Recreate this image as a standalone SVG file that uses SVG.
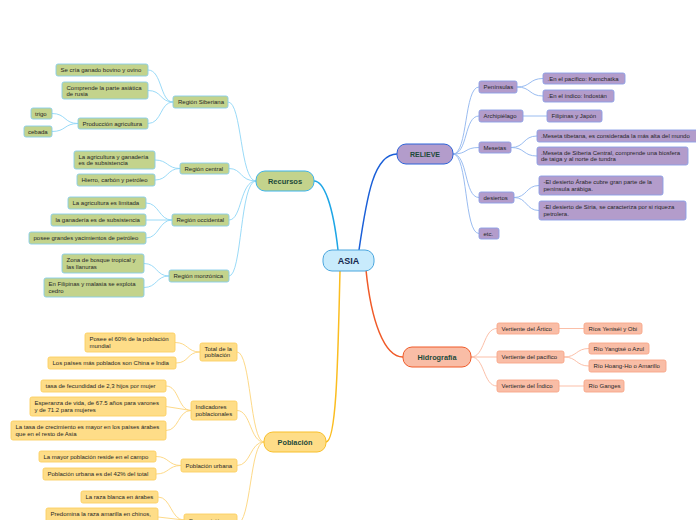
<svg xmlns="http://www.w3.org/2000/svg" width="696" height="520" viewBox="0 0 696 520">
<style>
text{font-family:"Liberation Sans",Arial,sans-serif;font-size:6px;fill:#262626}
.main{font-weight:bold;text-anchor:middle;fill:#1c4a3a}
.g rect{fill:#c3d38c;stroke:#86cdea;stroke-width:0.9}
.p rect{fill:#b39ccb;stroke:#8a9ee6;stroke-width:0.9}
.h rect{fill:#f9bda6;stroke:#f7a688;stroke-width:0.9}
.y rect{fill:#fedd88;stroke:#fccf62;stroke-width:0.9}
.c path{fill:none}
.cg path{stroke:#8fd6f6;stroke-width:0.9;fill:none}
.cp path{stroke:#8eb4ee;stroke-width:0.9;fill:none}
.ch path{stroke:#fbb89e;stroke-width:0.9;fill:none}
.cy path{stroke:#fdd57a;stroke-width:0.9;fill:none}
</style>
<rect width="696" height="520" fill="#ffffff"/>
<g id="connectors">
 <g class="c">
  <path d="M314 181 C324 181 333 205 338 250" stroke="#1ea6e6" stroke-width="1.5"/>
  <path d="M359 250 C367 195 374 154 397 154" stroke="#1a5fd8" stroke-width="1.5"/>
  <path d="M366 270 C371 320 384 357 403 357" stroke="#f05a28" stroke-width="1.5"/>
  <path d="M340 271 C338 350 337 442 326 442" stroke="#fbbd20" stroke-width="1.5"/>
 </g>
 <g class="cg">
  <path d="M256 181 C240 181 242 102 228 102"/>
  <path d="M256 181 C240 181 242 168.5 229 168.5"/>
  <path d="M256 181 C240 181 242 220 229 220"/>
  <path d="M256 181 C240 181 242 276 229 276"/>
  <path d="M173 102 C160 102 162 70 148 70"/>
  <path d="M173 102 C160 102 162 90.5 148 90.5"/>
  <path d="M173 102 C160 102 162 123.5 148 123.5"/>
  <path d="M78 123.5 C64 123.5 66 113.5 52 113.5"/>
  <path d="M78 123.5 C64 123.5 66 131.5 52 131.5"/>
  <path d="M180 168.5 C167 168.5 168 160 155 160"/>
  <path d="M180 168.5 C167 168.5 168 180 155 180"/>
  <path d="M172 220 C159 220 159 203 146 203"/>
  <path d="M172 220 L146 220"/>
  <path d="M172 220 C159 220 159 238 146 238"/>
  <path d="M169 276 C156 276 157 263.5 144 263.5"/>
  <path d="M169 276 C156 276 157 287.5 144 287.5"/>
 </g>
 <g class="cp">
  <path d="M453 154 C468 154 464 87 479 87"/>
  <path d="M453 154 C468 154 464 116 479 116"/>
  <path d="M453 154 C468 154 464 147.5 479 147.5"/>
  <path d="M453 154 C468 154 464 197.5 479 197.5"/>
  <path d="M453 154 C468 154 464 233.5 479 233.5"/>
  <path d="M517 87 C531 87 529 78.5 543 78.5"/>
  <path d="M517 87 C531 87 529 96 543 96"/>
  <path d="M523 116 L547 116"/>
  <path d="M511 147.5 C525 147.5 523 136 537 136"/>
  <path d="M511 147.5 C525 147.5 523 156 537 156"/>
  <path d="M514 197.5 C527 197.5 526 185.5 539 185.5"/>
  <path d="M514 197.5 C527 197.5 526 210.5 539 210.5"/>
 </g>
 <g class="ch">
  <path d="M471 357 C485 357 483 328.5 497 328.5"/>
  <path d="M471 357 L497 357"/>
  <path d="M471 357 C485 357 483 386 497 386"/>
  <path d="M559 328.5 L584 328.5"/>
  <path d="M564 357 C577 357 576 348.5 589 348.5"/>
  <path d="M564 357 C577 357 576 366 589 366"/>
  <path d="M559 386 L584 386"/>
 </g>
 <g class="cy">
  <path d="M264 442 C250 442 251 352 237 352"/>
  <path d="M264 442 C250 442 251 410.5 237 410.5"/>
  <path d="M264 442 C250 442 251 465.5 237 465.5"/>
  <path d="M264 442 C250 442 251 524 237 524"/>
  <path d="M200 352 C187 352 188 342.5 175 342.5"/>
  <path d="M200 352 C187 352 189 363 176 363"/>
  <path d="M191 410.5 C178 410.5 179 386 166 386"/>
  <path d="M191 410.5 L166 406.5"/>
  <path d="M191 410.5 C178 410.5 179 430.5 166 430.5"/>
  <path d="M181 465.5 C168 465.5 169 456.5 156 456.5"/>
  <path d="M181 465.5 C168 465.5 169 474 156 474"/>
  <path d="M184 520 C171 520 171 497 158 497"/>
  <path d="M184 520 L158 517"/>
 </g>
</g>

<g id="asia"><rect x="323" y="250" width="51" height="21" rx="9" fill="#c8ebfc" stroke="#4aa6de" stroke-width="1"/><text class="main" x="348.5" y="263.6" style="font-size:9px;fill:#16284e">ASIA</text></g>

<g id="recursos" class="g"><rect x="256" y="171" width="58" height="20" rx="9" style="stroke:#3db4ea;stroke-width:1"/><text class="main" x="285" y="183.6" style="font-size:7.5px">Recursos</text></g>
<g id="r-siberiana" class="g"><rect x="173" y="96" width="55" height="12" rx="2"/><text x="178" y="104">Región Siberiana</text></g>
<g id="r-ganado" class="g"><rect x="56" y="64" width="92" height="12" rx="2"/><text x="60.5" y="72">Se cría ganado bovino y ovino</text></g>
<g id="r-comprende" class="g"><rect x="62" y="82" width="86" height="17" rx="2"/><text x="66.5" y="89.5">Comprende la parte asiática</text><text x="66.5" y="96">de rusia</text></g>
<g id="r-produccion" class="g"><rect x="78" y="118" width="70" height="11" rx="2"/><text x="82.5" y="125.6">Producción agricultura</text></g>
<g id="r-trigo" class="g"><rect x="31" y="108" width="21" height="11" rx="2"/><text x="35" y="115.6">trigo</text></g>
<g id="r-cebada" class="g"><rect x="24" y="126" width="28" height="11" rx="2"/><text x="28" y="133.6">cebada</text></g>
<g id="r-central" class="g"><rect x="180" y="163" width="49" height="11" rx="2"/><text x="184.5" y="170.6">Región central</text></g>
<g id="r-agri-gan" class="g"><rect x="74" y="151" width="81" height="18" rx="2"/><text x="78.5" y="158.6">La agricultura y ganadería</text><text x="78.5" y="165">es de subsistencia</text></g>
<g id="r-hierro" class="g"><rect x="77" y="174" width="78" height="12" rx="2"/><text x="81.5" y="182">Hierro, carbón y petróleo</text></g>
<g id="r-occidental" class="g"><rect x="172" y="214" width="57" height="12" rx="2"/><text x="176.5" y="222">Región occidental</text></g>
<g id="r-limitada" class="g"><rect x="68" y="197" width="78" height="12" rx="2"/><text x="72.5" y="205">La agricultura es limitada</text></g>
<g id="r-ganaderia" class="g"><rect x="51" y="214" width="95" height="12" rx="2"/><text x="55.5" y="222">la ganadería es de subsistencia</text></g>
<g id="r-yacimientos" class="g"><rect x="29" y="232" width="117" height="12" rx="2"/><text x="33.5" y="240">posee grandes yacimientos de petróleo</text></g>
<g id="r-monzonica" class="g"><rect x="169" y="270" width="60" height="12" rx="2"/><text x="173.5" y="278">Región monzónica</text></g>
<g id="r-bosque" class="g"><rect x="62" y="254" width="82" height="19" rx="2"/><text x="66.5" y="262">Zona de bosque tropical y</text><text x="66.5" y="268.5">las llanuras</text></g>
<g id="r-filipinas" class="g"><rect x="44" y="278" width="100" height="19" rx="2"/><text x="48.5" y="286">En Filipinas y malasia se explota</text><text x="48.5" y="292.5">cedro</text></g>

<g id="relieve" class="p"><rect x="397" y="144" width="56" height="20" rx="9" style="stroke:#2c62d8;stroke-width:1"/><text class="main" x="425" y="156.6" style="font-size:7px">RELIEVE</text></g>
<g id="v-peninsulas" class="p"><rect x="479" y="81" width="38" height="12" rx="2"/><text x="483.5" y="89">Penínsulas</text></g>
<g id="v-kamchatka" class="p"><rect x="543" y="73" width="82" height="11" rx="2"/><text x="547.5" y="80.6">.En el pacífico: Kamchatka</text></g>
<g id="v-indostan" class="p"><rect x="543" y="90" width="71" height="12" rx="2"/><text x="547.5" y="98">.En el índico: Indostán</text></g>
<g id="v-archipielago" class="p"><rect x="479" y="110" width="44" height="12" rx="2"/><text x="483.5" y="118">Archipiélago</text></g>
<g id="v-filipinas" class="p"><rect x="547" y="110" width="55" height="12" rx="2"/><text x="551.5" y="118">Filipinas y Japón</text></g>
<g id="v-mesetas" class="p"><rect x="479" y="142" width="32" height="11" rx="2"/><text x="483.5" y="149.6">Mesetas</text></g>
<g id="v-tibetana" class="p"><rect x="537" y="130" width="164" height="12" rx="2"/><text x="541" y="138">.Meseta tibetana, es considerada la más alta del mundo</text></g>
<g id="v-siberia" class="p"><rect x="537" y="147" width="151" height="18" rx="2"/><text x="541" y="154.6">.Meseta de Siberia Central, comprende una biosfera</text><text x="541" y="161">de taiga y al norte de tundra</text></g>
<g id="v-desiertos" class="p"><rect x="479" y="192" width="35" height="11" rx="2"/><text x="483.5" y="199.6">desiertos</text></g>
<g id="v-arabe" class="p"><rect x="539" y="176" width="124" height="19" rx="2"/><text x="543.5" y="184">-El desierto Árabe cubre gran parte de la</text><text x="543.5" y="190.5">península arábiga.</text></g>
<g id="v-siria" class="p"><rect x="539" y="201" width="147" height="19" rx="2"/><text x="543.5" y="209">-El desierto de Siria, se caracteriza por si riqueza</text><text x="543.5" y="215.5">petrolera.</text></g>
<g id="v-etc" class="p"><rect x="479" y="228" width="20" height="11" rx="2"/><text x="483.5" y="235.6">etc.</text></g>

<g id="hidrografia" class="h"><rect x="403" y="347" width="68" height="20" rx="9" style="stroke:#f05a28;stroke-width:1"/><text class="main" x="437" y="359.6" style="font-size:7.3px">Hidrografía</text></g>
<g id="h-artico" class="h"><rect x="497" y="323" width="62" height="11" rx="2"/><text x="501.5" y="330.6">Vertiente del Ártico</text></g>
<g id="h-yenisei" class="h"><rect x="584" y="323" width="58" height="11" rx="2"/><text x="588.5" y="330.6">Ríos Yeniséi y Obi</text></g>
<g id="h-pacifico" class="h"><rect x="497" y="351" width="67" height="12" rx="2"/><text x="501.5" y="359">Vertiente del pacífico</text></g>
<g id="h-yangtse" class="h"><rect x="589" y="343" width="60" height="11" rx="2"/><text x="593.5" y="350.6">Río Yangtsé o Azul</text></g>
<g id="h-hoangho" class="h"><rect x="589" y="360" width="77" height="12" rx="2"/><text x="593.5" y="368">Río Hoang-Ho o Amarillo</text></g>
<g id="h-indico" class="h"><rect x="497" y="380" width="62" height="12" rx="2"/><text x="501.5" y="388">Vertiente del Índico</text></g>
<g id="h-ganges" class="h"><rect x="584" y="380" width="40" height="12" rx="2"/><text x="588.5" y="388">Río Ganges</text></g>

<g id="poblacion" class="y"><rect x="264" y="432" width="62" height="20" rx="9" style="stroke:#f8bf2a;stroke-width:1"/><text class="main" x="295" y="444.6" style="font-size:7.3px">Población</text></g>
<g id="p-total" class="y"><rect x="200" y="343" width="37" height="18" rx="2"/><text x="204.5" y="350.6">Total de la</text><text x="204.5" y="357">población</text></g>
<g id="p-60" class="y"><rect x="85" y="333" width="90" height="19" rx="2"/><text x="89.5" y="341">Posee el 60% de la población</text><text x="89.5" y="347.5">mundial</text></g>
<g id="p-china" class="y"><rect x="48" y="357" width="128" height="12" rx="2"/><text x="52.5" y="365">Los países más poblados son China e India</text></g>
<g id="p-indicadores" class="y"><rect x="191" y="401" width="46" height="19" rx="2"/><text x="195.5" y="409">Indicadores</text><text x="195.5" y="415.5">poblacionales</text></g>
<g id="p-fecundidad" class="y"><rect x="41" y="380" width="125" height="12" rx="2"/><text x="45.5" y="388">tasa de fecundidad de 2,3 hijos por mujer</text></g>
<g id="p-esperanza" class="y"><rect x="30" y="397" width="136" height="19" rx="2"/><text x="34.5" y="405">Esperanza de vida, de 67.5 años para varones</text><text x="34.5" y="411.5">y de 71.2 para mujeres</text></g>
<g id="p-crecimiento" class="y"><rect x="11" y="421" width="155" height="19" rx="2"/><text x="15.5" y="429">La tasa de crecimiento es mayor en los países árabes</text><text x="15.5" y="435.5">que en el resto de Asia</text></g>
<g id="p-urbana" class="y"><rect x="181" y="459" width="56" height="13" rx="2"/><text x="185.5" y="467.5">Población urbana</text></g>
<g id="p-campo" class="y"><rect x="39" y="451" width="117" height="11" rx="2"/><text x="43.5" y="458.6">La mayor población reside en el campo</text></g>
<g id="p-42" class="y"><rect x="43" y="468" width="113" height="12" rx="2"/><text x="47.5" y="476">Población urbana es del 42% del total</text></g>
<g id="p-composicion" class="y"><rect x="184" y="514" width="53" height="20" rx="2"/><text x="188.5" y="522.5">Composición</text></g>
<g id="p-blanca" class="y"><rect x="81" y="491" width="77" height="12" rx="2"/><text x="85.5" y="499">La raza blanca en árabes</text></g>
<g id="p-amarilla" class="y"><rect x="46" y="508" width="112" height="20" rx="2"/><text x="50.5" y="516">Predomina la raza amarilla en chinos,</text></g>
</svg>
